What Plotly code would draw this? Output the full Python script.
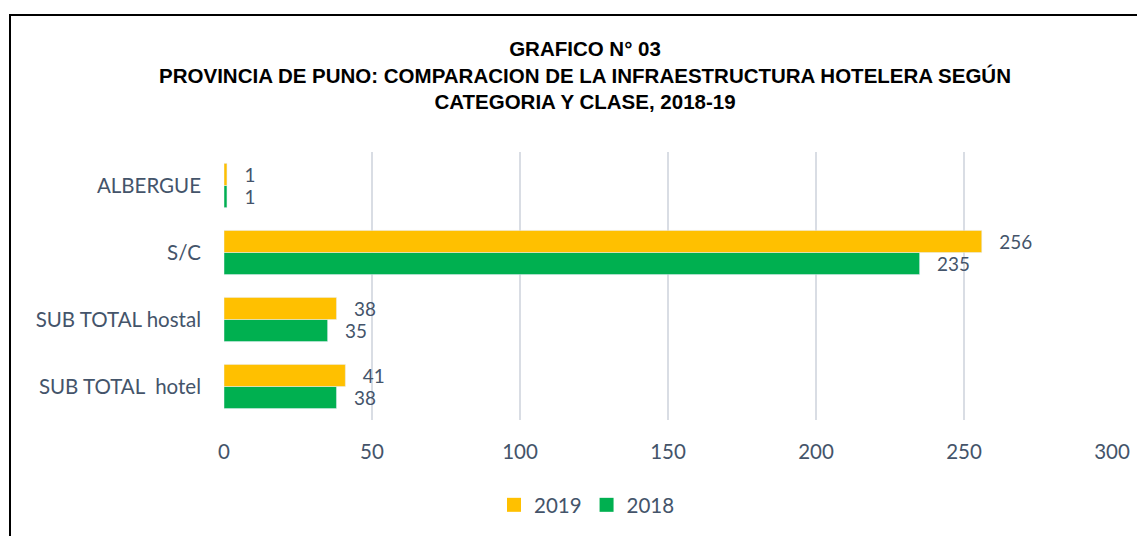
import plotly.graph_objects as go

categories = ["SUB TOTAL  hotel", "SUB TOTAL hostal", "S/C", "ALBERGUE"]
values_2018 = [38, 35, 235, 1]
values_2019 = [41, 38, 256, 1]
x_ticks = [0, 50, 100, 150, 200, 250, 300]

OFF = 8  # page body margin
W, H = 1145 - OFF, 536 - OFF
L, T = 224 - OFF, 152 - OFF
pw, ph = 888, 268
R, B = W - L - pw, H - T - ph

txt = "#44546A"
font = "Lato, 'Open Sans', sans-serif"
fs = 20.5
Y19, G18 = "#FFC000", "#00B050"
pad = "\u00a0\u00a0\u00a0"

fig = go.Figure()
fig.add_trace(go.Bar(y=categories, x=values_2018, name="2018", orientation="h",
                     marker_color=G18, texttemplate=pad + "%{x}", textposition="outside",
                     textfont=dict(color=txt, size=fs, family=font), cliponaxis=False,
                     showlegend=False))
fig.add_trace(go.Bar(y=categories, x=values_2019, name="2019", orientation="h",
                     marker_color=Y19, texttemplate=pad + "%{x}", textposition="outside",
                     textfont=dict(color=txt, size=fs, family=font), cliponaxis=False,
                     showlegend=False))
# legend entries
fig.add_trace(go.Scatter(x=[None], y=[None], mode="markers", name="2019",
                         marker=dict(symbol="square", size=14, color=Y19)))
fig.add_trace(go.Scatter(x=[None], y=[None], mode="markers", name="2018",
                         marker=dict(symbol="square", size=14, color=G18)))

def px_x(p):
    return (p - OFF - L) / pw

def px_y(p):
    return 1 - (p - OFF - T) / ph

fig.update_layout(
    width=W, height=H,
    margin=dict(l=L, r=R, t=T, b=B, autoexpand=False),
    paper_bgcolor="white", plot_bgcolor="white",
    barmode="group", bargap=0.34, bargroupgap=0,
    title=dict(
        text="GRAFICO N° 03<br>PROVINCIA DE PUNO: COMPARACION DE LA INFRAESTRUCTURA HOTELERA SEGÚN<br>CATEGORIA Y CLASE, 2018-19",
        x=(585 - OFF) / W, xanchor="center", y=1 - 48 / H, yanchor="top",
        font=dict(family="'Liberation Sans Narrow', 'Arial Narrow', 'Liberation Sans', sans-serif",
                  size=20.5, color="black", weight="bold"),
    ),
    xaxis=dict(range=[0, 300], tickvals=x_ticks, showgrid=True, gridcolor="#D9DDE4",
               gridwidth=2, zeroline=False, showline=False, ticks="",
               tickfont=dict(family=font, size=fs, color=txt), ticklabelstandoff=17),
    yaxis=dict(showgrid=False, zeroline=False, showline=False, ticks="",
               tickfont=dict(family=font, size=fs, color=txt), ticklabelstandoff=22),
    legend=dict(orientation="h", x=px_x(587), xanchor="center", y=px_y(485), yanchor="top",
                itemwidth=30, font=dict(family=font, size=fs, color=txt)),
    showlegend=True,
    shapes=[dict(type="rect", xref="paper", yref="paper",
                 x0=px_x(10), x1=px_x(1160), y0=px_y(560), y1=px_y(15),
                 line=dict(color="black", width=2), fillcolor="rgba(0,0,0,0)", layer="below")],
)

fig.write_html("out.html")
